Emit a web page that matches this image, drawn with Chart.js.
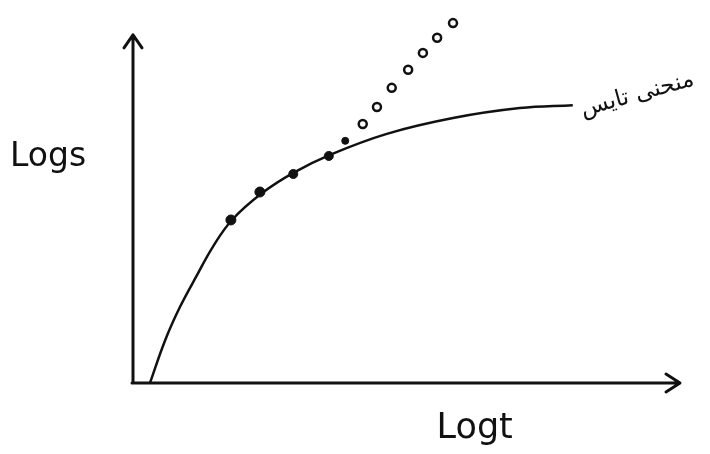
<!DOCTYPE html>
<html>
<head>
<meta charset="utf-8">
<script src="https://cdn.jsdelivr.net/npm/chart.js@4/dist/chart.umd.min.js"></script>
<style>
  html, body { margin: 0; padding: 0; background: #fff; }
  #wrap { width: 710px; height: 454px; position: relative; }
</style>
</head>
<body>
<div id="wrap"><canvas id="c"></canvas></div>
<script>
// Theis type curve sketch (log s vs log t), arbitrary units 0..100
const curveX = [3.1, 5.9, 8.6, 11.7, 14.6, 18.1, 23.6, 29.3, 36.0, 46.4, 58.5, 70.7, 80.4];
const curveY = [0, 11.7, 20.7, 29.3, 37.0, 44.3, 51.6, 57.1, 62.0, 67.7, 72.0, 74.7, 75.5];

const fieldX = [17.9, 23.2, 29.3, 35.8, 38.8];
const fieldY = [44.3, 51.9, 56.8, 61.7, 65.8];

const openX = [42.0, 44.6, 47.3, 50.3, 53.0, 55.6, 58.5];
const openY = [70.4, 75.0, 80.2, 85.1, 89.7, 93.8, 97.8];

const xLabel = "Logt";
const yLabel = "Logs";
const curveLabel = "منحنی تایس";
const yAxisTop = 94.6;
const xAxisEnd = 100;

const pts = (xs, ys) => xs.map((x, i) => ({ x, y: ys[i] }));

// hand-drawn style axes with arrows + labels
const sketchAxes = {
  id: "sketchAxes",
  afterDatasetsDraw(chart) {
    const { ctx, scales: { x, y } } = chart;
    const x0 = x.getPixelForValue(0), y0 = y.getPixelForValue(0);
    const yTop = y.getPixelForValue(yAxisTop);
    const xEnd = x.getPixelForValue(xAxisEnd);
    ctx.save();
    ctx.strokeStyle = "#111";
    ctx.lineWidth = 3;
    ctx.lineCap = "round";
    ctx.lineJoin = "round";
    ctx.beginPath();
    ctx.moveTo(x0, y0); ctx.lineTo(x0, yTop);
    ctx.moveTo(x0 - 1, y0); ctx.lineTo(xEnd, y0);
    // arrow heads
    ctx.moveTo(x0 - 9, yTop + 13); ctx.lineTo(x0, yTop); ctx.lineTo(x0 + 9, yTop + 13);
    ctx.moveTo(xEnd - 14, y0 - 9); ctx.lineTo(xEnd, y0); ctx.lineTo(xEnd - 14, y0 + 9);
    ctx.stroke();

    ctx.fillStyle = "#111";
    ctx.font = "33px 'DejaVu Sans'";
    ctx.textBaseline = "alphabetic";
    ctx.textAlign = "left";
    ctx.fillText(yLabel, 10, y.getPixelForValue(59));
    ctx.font = "35px 'DejaVu Sans'";
    ctx.fillText(xLabel, x.getPixelForValue(55.5), y0 + 55);

    const last = curveX.length - 1;
    ctx.save();
    ctx.translate(x.getPixelForValue(curveX[last]) + 10, y.getPixelForValue(curveY[last]) + 11);
    ctx.rotate(-0.27);
    ctx.font = "23px 'DejaVu Sans'";
    ctx.textAlign = "left";
    ctx.fillText(curveLabel, 0, 0);
    ctx.restore();
    ctx.restore();
  }
};

new Chart(document.getElementById("c"), {
  type: "scatter",
  data: {
    datasets: [
      {
        label: "curve",
        data: pts(curveX, curveY),
        showLine: true,
        borderColor: "#111",
        borderWidth: 2.5,
        pointRadius: 0,
        tension: 0.4,
        fill: false,
      },
      {
        label: "field",
        data: pts(fieldX, fieldY),
        pointRadius: [5, 5, 4.5, 4.5, 3.5],
        backgroundColor: "#111",
        borderColor: "#111",
        borderWidth: 1,
      },
      {
        label: "open",
        data: pts(openX, openY),
        pointRadius: 4,
        backgroundColor: "#fff",
        borderColor: "#111",
        borderWidth: 2.5,
      },
    ],
  },
  options: {
    responsive: true,
    maintainAspectRatio: false,
    animation: false,
    layout: { padding: { left: 133, right: 30, top: 15, bottom: 71 } },
    plugins: { legend: { display: false }, tooltip: { enabled: false } },
    scales: {
      x: { type: "linear", min: 0, max: 100, display: false },
      y: { type: "linear", min: 0, max: 100, display: false },
    },
  },
  plugins: [sketchAxes],
});
</script>
</body>
</html>
